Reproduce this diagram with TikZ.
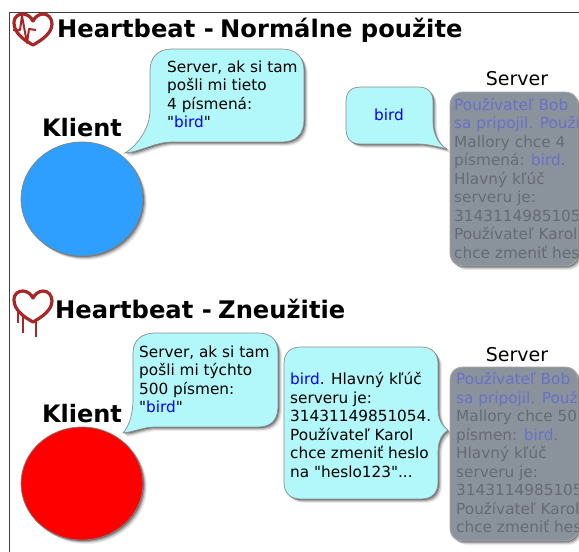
\documentclass[tikz,border=0pt]{standalone}
\usepackage{fontspec}
\setmainfont{DejaVu Sans}[Ligatures=TeXOff]
\usetikzlibrary{shadows}
\definecolor{bubblecyan}{HTML}{B2F7F9}
\definecolor{servergray}{HTML}{8A939C}
\definecolor{servertext}{HTML}{666B73}
\definecolor{serverblue}{HTML}{6A70C8}
\definecolor{heartred}{HTML}{A82626}
\definecolor{clientblue}{HTML}{2E9FFF}
\newcommand{\bird}[1]{\textcolor{#1}{bird}}
\tikzset{
    softshadow/.style={
        preaction={general shadow={shadow xshift=4pt,shadow yshift=-4pt,fill=black,opacity=0.07}},
        preaction={general shadow={shadow xshift=3pt,shadow yshift=-3pt,fill=black,opacity=0.12}},
        preaction={general shadow={shadow xshift=2pt,shadow yshift=-2pt,fill=black,opacity=0.2}},
        preaction={general shadow={shadow xshift=1pt,shadow yshift=-1pt,fill=black,opacity=0.3}}
    },
    bubble/.style={fill=bubblecyan,draw=black!45,line width=0.7pt,softshadow},
    client/.style={draw=black!50,line width=0.7pt,softshadow},
    serverbox/.style={fill=servergray,draw=black!35,line width=0.9pt,softshadow},
    title/.style={anchor=base west,inner sep=0pt,font=\fontsize{24.2}{28}\selectfont\bfseries},
    klient/.style={anchor=base,inner sep=0pt,font=\fontsize{24}{28}\selectfont\bfseries},
    serverlabel/.style={anchor=base,inner sep=0pt,font=\fontsize{19}{24}\selectfont},
    msg/.style={anchor=north west,inner sep=0pt,align=left,font=\fontsize{15.3}{18.5}\selectfont},
    servermsg/.style={msg,text=servertext},
    heartline/.style={draw=heartred,line width=3.2pt,line join=round}
}
\newcommand{\heartoutline}{(33,45) .. controls (24,40) and (14,33) .. (14,23) .. controls (14,16) and (19,14) .. (23,14) .. controls (27,14) and (31,17) .. (33,21) .. controls (35,17) and (39,14) .. (43,14) .. controls (48,14) and (52,18) .. (52,24) .. controls (52,33) and (42,40) .. (33,45) -- cycle}

\begin{document}
\begin{tikzpicture}[x=1pt,y=-1pt]
    \useasboundingbox (0,0) rectangle (579,552);

    \draw[black!75,line width=0.8pt] (579,12) -- (9.5,12) -- (9.5,552);

    \draw[heartline] \heartoutline;
    \draw[heartred,line width=2pt,line join=round] (13,30) -- (20,30) -- (22,16) -- (27,43) -- (29,29) -- (36,30);
    \node[title] (titlenormal) at (57,37) {Heartbeat -\kern-2pt\ Normálne použite};

    \begin{scope}[shift={(0,277)}]
        \draw[heartline] \heartoutline;
        \foreach \x/\ya/\yb in {18/33/46,23/37/56,36/42/60} {
            \draw[heartred,line width=2.2pt] (\x,\ya) -- (\x,\yb);
        }
    \end{scope}
    \node[title] (titleabuse) at (55,318) {Heartbeat -\kern-2pt\ Zneužitie};

    \node[klient] (klientnormal) at (82,136) {Klient};
    \fill[client,fill=clientblue] (82,199) ellipse (61 and 57);

    \node[klient] (klientabuse) at (82,422) {Klient};
    \fill[client,fill=red] (82,483.5) ellipse (61 and 56.5);

    \path[bubble] (172,49) -- (282,49) .. controls (296,49) and (304,57) .. (304,71) -- (304,120) .. controls (304,134) and (296,142) .. (282,142) -- (172,142) .. controls (155,142) and (140,152) .. (125,153) .. controls (138,145) and (150,128) .. (150,110) -- (150,71) .. controls (150,57) and (158,49) .. (172,49) -- cycle;
    \node[msg] (asknormal) at (167,60.5) {Server, ak si tam\\pošli mi tieto\\4 písmená:\\"\bird{blue}"};

    \path[bubble] (361,87) -- (418,87) .. controls (428,87) and (433,92) .. (433,102) -- (433,122) .. controls (433,133) and (438,144) .. (447,149) .. controls (438,147) and (428,144) .. (418,144) -- (361,144) .. controls (351,144) and (346,139) .. (346,129) -- (346,102) .. controls (346,92) and (351,87) .. (361,87) -- cycle;
    \node[msg,anchor=center] (replynormal) at (389,115) {\bird{blue}};

    \path[bubble] (155,333) -- (258,333) .. controls (271,333) and (278,340) .. (278,353) -- (278,406) .. controls (278,420) and (271,427) .. (258,427) -- (155,427) .. controls (143,427) and (134,432) .. (123,433) .. controls (130,425) and (133,412) .. (133,400) -- (133,353) .. controls (133,340) and (142,333) .. (155,333) -- cycle;
    \node[msg] (askabuse) at (139,345.5) {Server, ak si tam\\pošli mi týchto\\500 písmen:\\"\bird{blue}"};

    \path[bubble] (301,347) -- (421,347) .. controls (432,347) and (438,353) .. (438,364) -- (438,408) .. controls (438,419) and (442,426) .. (448,430) .. controls (442,434) and (438,441) .. (438,452) -- (438,482) .. controls (438,493) and (432,499) .. (421,499) -- (301,499) .. controls (290,499) and (284,493) .. (284,482) -- (284,364) .. controls (284,353) and (290,347) .. (301,347) -- cycle;
    \node[msg] (replyabuse) at (290,372.5) {\bird{blue}. Hlavný kľúč\\serveru je:\\31431149851054.\\Používateľ Karol\\chce zmeniť heslo\\na "heslo123"...};

    \node[serverlabel] (servernormal) at (517,85) {Server};
    \fill[serverbox] (450,106) .. controls (450,97) and (455,92) .. (464,92) -- (564,92) .. controls (573,92) and (578,97) .. (578,106) -- (578,252) .. controls (578,261) and (573,266) .. (564,266) -- (464,266) .. controls (455,266) and (450,261) .. (450,252) -- cycle;
    \begin{scope}
        \clip (450,92) rectangle (577,266);
        \node[servermsg] (memorynormal) at (454,98) {\textcolor{serverblue}{Používateľ Bob}\\\textcolor{serverblue}{sa pripojil. Používateľ}\\Mallory chce 4\\písmená: \bird{serverblue}.\\Hlavný kľúč\\serveru je:\\31431149851054.\\Používateľ Karol\\chce zmeniť heslo};
    \end{scope}

    \node[serverlabel] (serverabuse) at (517,361) {Server};
    \fill[serverbox] (450,381) .. controls (450,372) and (455,367) .. (464,367) -- (564,367) .. controls (573,367) and (578,372) .. (578,381) -- (578,527) .. controls (578,536) and (573,541) .. (564,541) -- (464,541) .. controls (455,541) and (450,536) .. (450,527) -- cycle;
    \begin{scope}
        \clip (450,367) rectangle (577,541);
        \node[servermsg] (memoryabuse) at (456,372.5) {\textcolor{serverblue}{Používateľ Bob}\\\textcolor{serverblue}{sa pripojil. Používateľ}\\Mallory chce 500\\písmen: \bird{serverblue}.\\Hlavný kľúč\\serveru je:\\31431149851054.\\Používateľ Karol\\chce zmeniť heslo};
    \end{scope}
\end{tikzpicture}
\end{document}
